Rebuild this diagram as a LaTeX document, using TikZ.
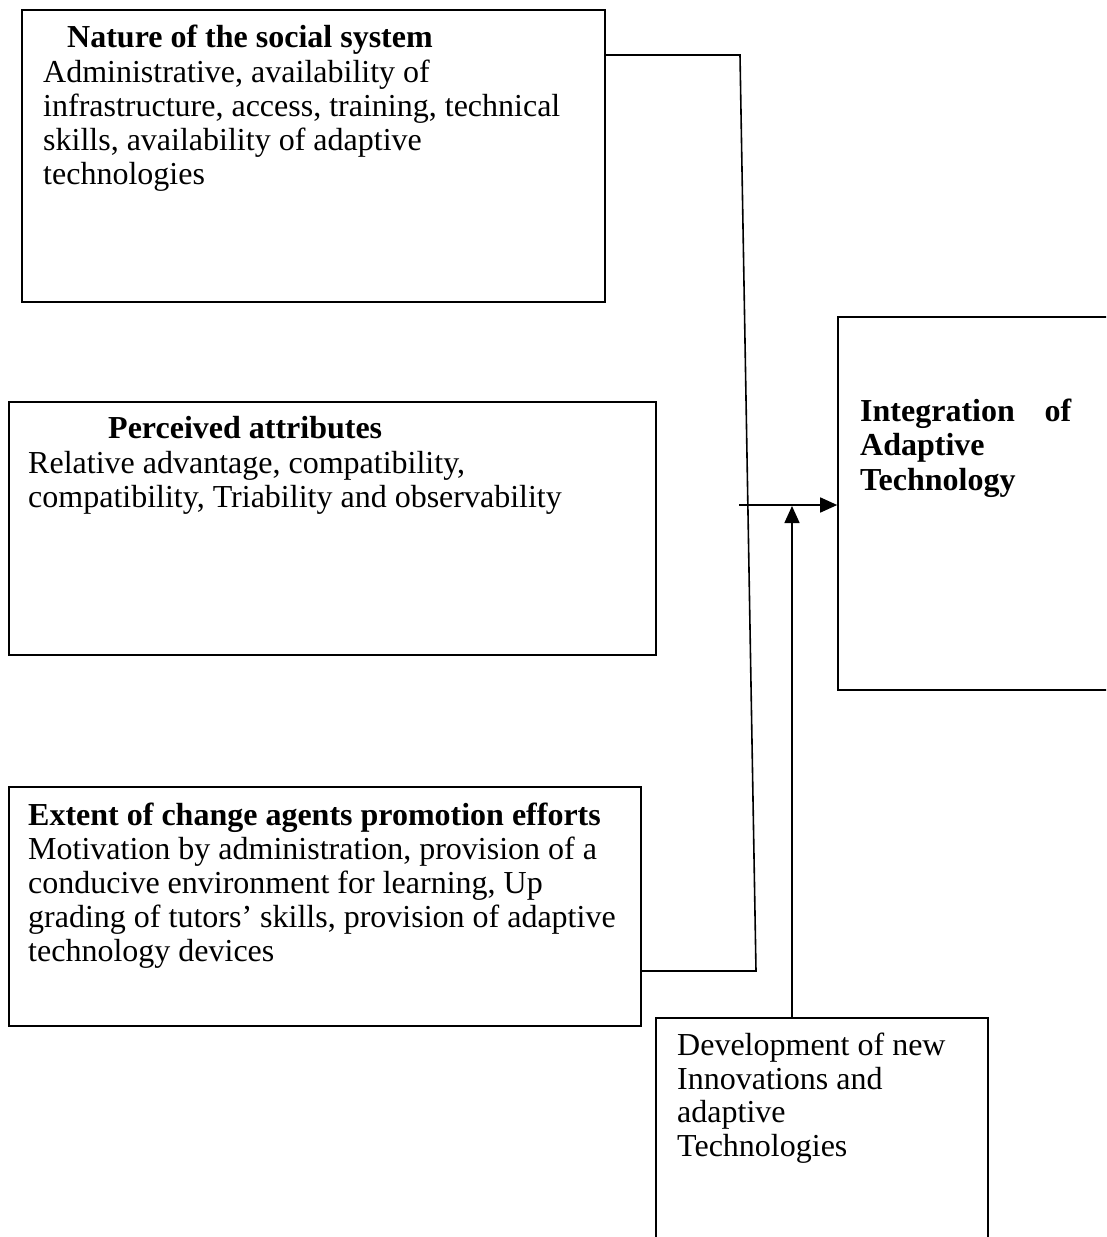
\documentclass[tikz,border=0pt]{standalone}
\usepackage{fontspec}
\setmainfont{Liberation Serif}
\usetikzlibrary{arrows.meta}
\begin{document}
\begin{tikzpicture}[x=1pt,y=-1pt,
  box/.style={draw,line width=1.6pt,rectangle,inner sep=0pt},
  txt/.style={anchor=north west,inner sep=0pt,align=left,font=\fontsize{32}{33.8}\selectfont},
  conn/.style={line width=1.6pt},
  arr/.style={line width=1.6pt,-{Triangle[length=17pt,width=15pt]}}]
\useasboundingbox (0,0) rectangle (1106,1237);
\clip (0,0) rectangle (1106,1237);
% boxes
\node[box,minimum width=583pt,minimum height=292pt] (n1) at (313.5,156) {};
\node[box,minimum width=647pt,minimum height=253pt] (n2) at (332.5,528.5) {};
\node[box,minimum width=632pt,minimum height=239pt] (n3) at (325,906.5) {};
\node[box,minimum width=290pt,minimum height=373pt] (n4) at (983,503.5) {};
\node[box,minimum width=332pt,minimum height=250pt] (n5) at (822,1143) {};
% texts
\node[txt] (t1h) at (67,24) {\strut\textbf{Nature of the social system}};
\node[txt] (t1) at (43,59) {\strut Administrative, availability of\\infrastructure, access, training, technical\\skills, availability of adaptive\\technologies};
\node[txt] (t2h) at (108,415) {\strut\textbf{Perceived attributes}};
\node[txt] (t2) at (28,450) {\strut Relative advantage, compatibility,\\compatibility, Triability and observability};
\node[txt] (t3) at (28,802) {\strut\textbf{Extent of change agents promotion efforts}\\Motivation by administration, provision of a\\conducive environment for learning, Up\\grading of tutors' skills, provision of adaptive\\technology devices};
\node[txt,font=\fontsize{32}{34.5}\selectfont\bfseries] (t4) at (860,397) {\strut\makebox[211pt][s]{Integration of}\\Adaptive\\Technology};
\node[txt] (t5) at (677,1031.5) {\strut Development of new\\Innovations and\\adaptive\\Technologies};
% connectors
\coordinate (j1) at (740,55);
\coordinate (j2) at (756,971);
\coordinate (a0) at (739,505);
\coordinate (b0) at (792,506);
\draw[conn] (n1.east |- j1) -- (j1) -- (j2) -- (n3.east |- j2);
\draw[arr] (a0) -- (n4.west |- a0);
\draw[arr] (n5.north -| b0) -- (b0);
\end{tikzpicture}
\end{document}
